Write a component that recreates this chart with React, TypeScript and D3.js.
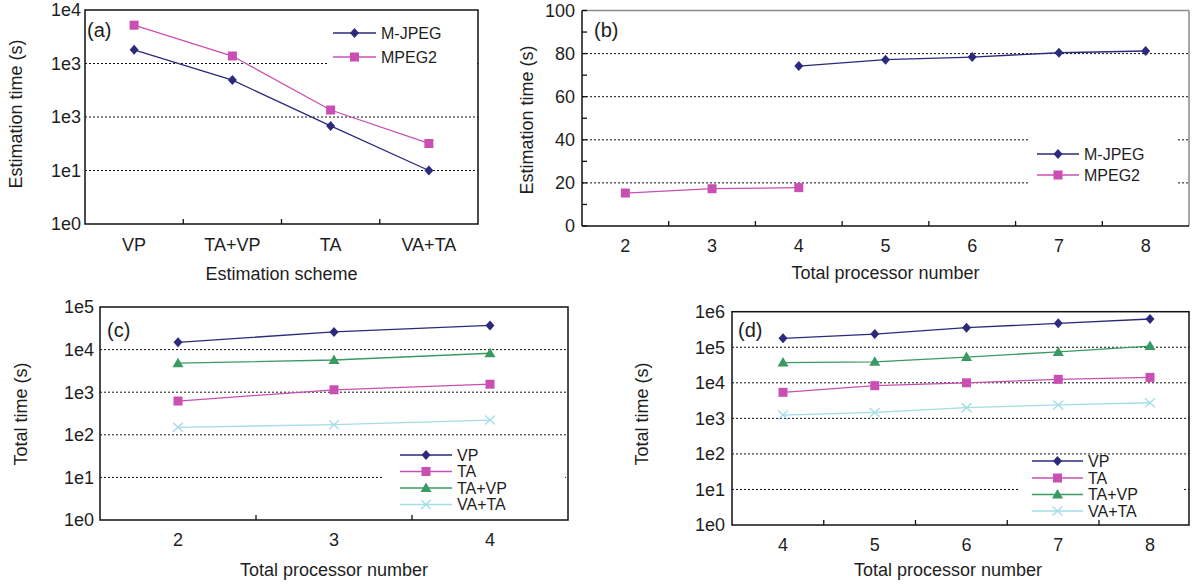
import React from "react";
import * as d3 from "d3";

// ---------- Data ----------
const schemes = ["VP", "TA+VP", "TA", "VA+TA"];
const aMJPEG = [1800, 490, 68, 10];
const aMPEG2 = [5200, 1380, 135, 32];
const aYTickValues = [1, 10, 100, 1000, 10000];
const aYTickLabels = ["1e0", "1e1", "1e3", "1e3", "1e4"];

const bProcs = [2, 3, 4, 5, 6, 7, 8];
const bMJPEGProcs = [4, 5, 6, 7, 8];
const bMJPEG = [74.2, 77.2, 78.4, 80.4, 81.2];
const bMPEG2Procs = [2, 3, 4];
const bMPEG2 = [15.3, 17.3, 17.8];
const bYTicks = [0, 20, 40, 60, 80, 100];
const bYMinor = [10, 30, 50, 70, 90];

const cProcs = [2, 3, 4];
const cVP = [14800, 26000, 37000];
const cTA = [620, 1140, 1540];
const cTAVP = [4800, 5700, 8200];
const cVATA = [150, 173, 222];
const cYTickValues = [1, 10, 100, 1000, 10000, 100000];
const cYTickLabels = ["1e0", "1e1", "1e2", "1e3", "1e4", "1e5"];

const dProcs = [4, 5, 6, 7, 8];
const dVP = [178000, 234000, 355000, 470000, 623000];
const dTA = [5400, 8300, 10000, 12500, 14200];
const dTAVP = [37000, 39000, 53000, 74000, 108000];
const dVATA = [1240, 1470, 2000, 2380, 2750];
const dYTickValues = [1, 10, 100, 1000, 10000, 100000, 1000000];
const dYTickLabels = ["1e0", "1e1", "1e2", "1e3", "1e4", "1e5", "1e6"];

// ---------- Styles ----------
const C_NAVY = "#2b2a7c";
const C_MAG = "#c94fb2";
const C_GREEN = "#3a9a63";
const C_CYAN = "#a3dde8";
const FONT = "'Liberation Sans', Arial, Helvetica, sans-serif";
const TXT = "#1e1e1e";

type MType = "diamond" | "square" | "triangle" | "x";

function Marker({ type, x, y, color }: { type: MType; x: number; y: number; color: string }) {
  if (type === "diamond")
    return <path d={`M${x},${y - 5}L${x + 4.5},${y}L${x},${y + 5}L${x - 4.5},${y}Z`} fill={color} />;
  if (type === "square") return <rect x={x - 4.5} y={y - 4.5} width={9} height={9} fill={color} />;
  if (type === "triangle")
    return <path d={`M${x},${y - 5.5}L${x + 5.5},${y + 4}L${x - 5.5},${y + 4}Z`} fill={color} />;
  return (
    <g stroke={color} strokeWidth={1.4}>
      <line x1={x - 5} y1={y - 4.5} x2={x + 5} y2={y + 4.5} />
      <line x1={x - 5} y1={y + 4.5} x2={x + 5} y2={y - 4.5} />
    </g>
  );
}

function Series({ xs, ys, type, color }: { xs: number[]; ys: number[]; type: MType; color: string }) {
  const pts: [number, number][] = xs.map((x, i) => [x, ys[i]]);
  const line = d3.line();
  return (
    <g>
      <path d={line(pts) || ""} fill="none" stroke={color} strokeWidth={1.3} />
      {pts.map((p, i) => (
        <Marker key={i} type={type} x={p[0]} y={p[1]} color={color} />
      ))}
    </g>
  );
}

function Legend({
  x1, x2, ys, items, fontSize,
}: {
  x1: number; x2: number; ys: number[];
  items: { label: string; type: MType; color: string }[]; fontSize: number;
}) {
  const mx = (x1 + x2) / 2;
  return (
    <g>
      {items.map((it, i) => (
        <g key={i}>
          <line x1={x1} x2={x2} y1={ys[i]} y2={ys[i]} stroke={it.color} strokeWidth={1.3} />
          <Marker type={it.type} x={mx} y={ys[i]} color={it.color} />
          <text x={x2 + 5} y={ys[i]} dy="0.36em" fontSize={fontSize} fill={TXT} fontFamily={FONT}>
            {it.label}
          </text>
        </g>
      ))}
    </g>
  );
}

function Grid({ ys, x1, x2 }: { ys: number[]; x1: number; x2: number }) {
  return (
    <g>
      {ys.map((y, i) => (
        <line key={i} x1={x1} x2={x2} y1={y} y2={y} stroke="#111" strokeWidth={1} strokeDasharray="2,2" />
      ))}
    </g>
  );
}

export default function App() {
  // ----- Panel A -----
  const A = { l: 85, r: 478, t: 10, b: 224 };
  const ax = d3.scaleBand<string>().domain(schemes).range([A.l, A.r]);
  const ay = d3.scaleLog().domain([1, 10000]).range([A.b, A.t]);
  const axc = (s: string) => (ax(s) as number) + ax.bandwidth() / 2;

  // ----- Panel B -----
  const B = { l: 582, r: 1189, t: 10.5, b: 226 };
  const bx = d3.scaleBand<number>().domain(bProcs).range([B.l, B.r]);
  const by = d3.scaleLinear().domain([0, 100]).range([B.b, B.t]);
  const bxc = (p: number) => (bx(p) as number) + bx.bandwidth() / 2;

  // ----- Panel C -----
  const Cc = { l: 100, r: 568, t: 307, b: 520 };
  const cx = d3.scaleBand<number>().domain(cProcs).range([Cc.l, Cc.r]);
  const cy = d3.scaleLog().domain([1, 100000]).range([Cc.b, Cc.t]);
  const cxc = (p: number) => (cx(p) as number) + cx.bandwidth() / 2;

  // ----- Panel D -----
  const D = { l: 732, r: 1189, t: 311.7, b: 525 };
  const dxMin = 3.444;
  const dxMax = 8.425;
  const dx = d3.scaleLinear().domain([dxMin, dxMax]).range([D.l, D.r]);
  const dy = d3.scaleLog().domain([1, 1000000]).range([D.b, D.t]);
  const dTicks = [1, 2, 3, 4].map((k) => dxMin + k);

  const tickFs = 18;

  return (
    <div style={{ position: "absolute", left: 0, top: 0 }}>
      <svg width={1192} height={585} style={{ display: "block", background: "#fff" }}>
        {/* ================= Panel A ================= */}
        <g>
          <Grid ys={[10, 100, 1000].map((v) => ay(v))} x1={A.l} x2={A.r} />
          <rect x={328} y={18} width={148} height={50} fill="#fff" />
          {schemes.slice(1).map((s, i) => (
            <line key={i} x1={ax(s)} x2={ax(s)} y1={A.b} y2={A.b - 5} stroke="#111" strokeWidth={1.3} />
          ))}
          <rect x={A.l} y={A.t} width={A.r - A.l} height={A.b - A.t} fill="none" stroke="#111" strokeWidth={1.5} />
          {aYTickValues.map((v, i) => (
            <text key={i} x={A.l - 4} y={ay(v)} dy="0.36em" textAnchor="end" fontSize={tickFs} fill={TXT} fontFamily={FONT}>
              {aYTickLabels[i]}
            </text>
          ))}
          {schemes.map((s, i) => (
            <text key={i} x={axc(s)} y={245} dy="0.36em" textAnchor="middle" fontSize={tickFs} fill={TXT} fontFamily={FONT}>
              {s}
            </text>
          ))}
          <Series xs={schemes.map(axc)} ys={aMPEG2.map((v) => ay(v))} type="square" color={C_MAG} />
          <Series xs={schemes.map(axc)} ys={aMJPEG.map((v) => ay(v))} type="diamond" color={C_NAVY} />
          <Legend
            x1={333}
            x2={376}
            ys={[33, 57]}
            fontSize={16}
            items={[
              { label: "M-JPEG", type: "diamond", color: C_NAVY },
              { label: "MPEG2", type: "square", color: C_MAG },
            ]}
          />
          <text x={87} y={30} dy="0.36em" fontSize={20} fill={TXT} fontFamily={FONT}>(a)</text>
          <text x={(A.l + A.r) / 2} y={274} dy="0.36em" textAnchor="middle" fontSize={18} fill={TXT} fontFamily={FONT}>
            Estimation scheme
          </text>
          <text transform={`translate(16,${114}) rotate(-90)`} dy="0.36em" textAnchor="middle" fontSize={18} fill={TXT} fontFamily={FONT}>
            Estimation time (s)
          </text>
        </g>

        {/* ================= Panel B ================= */}
        <g>
          <Grid ys={[20, 40, 60, 80].map((v) => by(v))} x1={B.l} x2={B.r} />
          <rect x={1030} y={134} width={148} height={58} fill="#fff" />
          <line x1={B.l} x2={B.r} y1={B.t} y2={B.t} stroke="#8a8a8a" strokeWidth={1.5} />
          <line x1={B.r} x2={B.r} y1={B.t} y2={B.b} stroke="#8a8a8a" strokeWidth={1.5} />
          {bYMinor.concat(bYTicks).map((v, i) => (
            <line key={i} x1={B.l} x2={B.l + 5} y1={by(v)} y2={by(v)} stroke="#111" strokeWidth={1.3} />
          ))}
          {bProcs.slice(1).map((p, i) => (
            <line key={i} x1={bx(p)} x2={bx(p)} y1={B.b} y2={B.b - 5} stroke="#111" strokeWidth={1.3} />
          ))}
          <line x1={B.l} x2={B.l} y1={B.t} y2={B.b} stroke="#111" strokeWidth={1.5} />
          <line x1={B.l} x2={B.r} y1={B.b} y2={B.b} stroke="#111" strokeWidth={1.5} />
          {bYTicks.map((v, i) => (
            <text key={i} x={B.l - 7} y={by(v)} dy="0.36em" textAnchor="end" fontSize={tickFs} fill={TXT} fontFamily={FONT}>
              {v}
            </text>
          ))}
          {bProcs.map((p, i) => (
            <text key={i} x={bxc(p)} y={246} dy="0.36em" textAnchor="middle" fontSize={tickFs} fill={TXT} fontFamily={FONT}>
              {p}
            </text>
          ))}
          <Series xs={bMJPEGProcs.map(bxc)} ys={bMJPEG.map((v) => by(v))} type="diamond" color={C_NAVY} />
          <Series xs={bMPEG2Procs.map(bxc)} ys={bMPEG2.map((v) => by(v))} type="square" color={C_MAG} />
          <Legend
            x1={1037}
            x2={1079}
            ys={[154, 175]}
            fontSize={16}
            items={[
              { label: "M-JPEG", type: "diamond", color: C_NAVY },
              { label: "MPEG2", type: "square", color: C_MAG },
            ]}
          />
          <text x={594} y={30} dy="0.36em" fontSize={20} fill={TXT} fontFamily={FONT}>(b)</text>
          <text x={(B.l + B.r) / 2} y={273} dy="0.36em" textAnchor="middle" fontSize={18} fill={TXT} fontFamily={FONT}>
            Total processor number
          </text>
          <text transform={`translate(527,${120}) rotate(-90)`} dy="0.36em" textAnchor="middle" fontSize={18} fill={TXT} fontFamily={FONT}>
            Estimation time (s)
          </text>
        </g>

        {/* ================= Panel C ================= */}
        <g>
          <Grid ys={[10, 100, 1000, 10000].map((v) => cy(v))} x1={Cc.l} x2={Cc.r} />
          <rect x={383} y={444} width={182} height={74} fill="#fff" />
          {cProcs.slice(1).map((p, i) => (
            <line key={i} x1={cx(p)} x2={cx(p)} y1={Cc.b} y2={Cc.b - 5} stroke="#111" strokeWidth={1.3} />
          ))}
          <rect x={Cc.l} y={Cc.t} width={Cc.r - Cc.l} height={Cc.b - Cc.t} fill="none" stroke="#111" strokeWidth={1.5} />
          {cYTickValues.map((v, i) => (
            <text key={i} x={Cc.l - 6} y={cy(v)} dy="0.36em" textAnchor="end" fontSize={tickFs} fill={TXT} fontFamily={FONT}>
              {cYTickLabels[i]}
            </text>
          ))}
          {cProcs.map((p, i) => (
            <text key={i} x={cxc(p)} y={540} dy="0.36em" textAnchor="middle" fontSize={tickFs} fill={TXT} fontFamily={FONT}>
              {p}
            </text>
          ))}
          <Series xs={cProcs.map(cxc)} ys={cVATA.map((v) => cy(v))} type="x" color={C_CYAN} />
          <Series xs={cProcs.map(cxc)} ys={cTA.map((v) => cy(v))} type="square" color={C_MAG} />
          <Series xs={cProcs.map(cxc)} ys={cTAVP.map((v) => cy(v))} type="triangle" color={C_GREEN} />
          <Series xs={cProcs.map(cxc)} ys={cVP.map((v) => cy(v))} type="diamond" color={C_NAVY} />
          <Legend
            x1={400}
            x2={452}
            ys={[455, 471.5, 488, 504.5]}
            fontSize={16}
            items={[
              { label: "VP", type: "diamond", color: C_NAVY },
              { label: "TA", type: "square", color: C_MAG },
              { label: "TA+VP", type: "triangle", color: C_GREEN },
              { label: "VA+TA", type: "x", color: C_CYAN },
            ]}
          />
          <text x={107} y={330} dy="0.36em" fontSize={20} fill={TXT} fontFamily={FONT}>(c)</text>
          <text x={(Cc.l + Cc.r) / 2} y={570} dy="0.36em" textAnchor="middle" fontSize={18} fill={TXT} fontFamily={FONT}>
            Total processor number
          </text>
          <text transform={`translate(21,${414}) rotate(-90)`} dy="0.36em" textAnchor="middle" fontSize={18} fill={TXT} fontFamily={FONT}>
            Total time (s)
          </text>
        </g>

        {/* ================= Panel D ================= */}
        <g>
          <Grid ys={[10, 100, 1000, 10000, 100000].map((v) => dy(v))} x1={D.l} x2={D.r} />
          <rect x={1018} y={455} width={166} height={68} fill="#fff" />
          {dTicks.map((t, i) => (
            <line key={i} x1={dx(t)} x2={dx(t)} y1={D.b} y2={D.b - 5} stroke="#111" strokeWidth={1.3} />
          ))}
          <rect x={D.l} y={D.t} width={D.r - D.l} height={D.b - D.t} fill="none" stroke="#111" strokeWidth={1.5} />
          {dYTickValues.map((v, i) => (
            <text key={i} x={D.l - 7} y={dy(v)} dy="0.36em" textAnchor="end" fontSize={tickFs} fill={TXT} fontFamily={FONT}>
              {dYTickLabels[i]}
            </text>
          ))}
          {dProcs.map((p, i) => (
            <text key={i} x={dx(p)} y={545} dy="0.36em" textAnchor="middle" fontSize={tickFs} fill={TXT} fontFamily={FONT}>
              {p}
            </text>
          ))}
          <Series xs={dProcs.map((p) => dx(p))} ys={dVATA.map((v) => dy(v))} type="x" color={C_CYAN} />
          <Series xs={dProcs.map((p) => dx(p))} ys={dTA.map((v) => dy(v))} type="square" color={C_MAG} />
          <Series xs={dProcs.map((p) => dx(p))} ys={dTAVP.map((v) => dy(v))} type="triangle" color={C_GREEN} />
          <Series xs={dProcs.map((p) => dx(p))} ys={dVP.map((v) => dy(v))} type="diamond" color={C_NAVY} />
          <Legend
            x1={1032}
            x2={1083}
            ys={[461, 478, 494.5, 511]}
            fontSize={16}
            items={[
              { label: "VP", type: "diamond", color: C_NAVY },
              { label: "TA", type: "square", color: C_MAG },
              { label: "TA+VP", type: "triangle", color: C_GREEN },
              { label: "VA+TA", type: "x", color: C_CYAN },
            ]}
          />
          <text x={738} y={330} dy="0.36em" fontSize={20} fill={TXT} fontFamily={FONT}>(d)</text>
          <text x={948} y={570} dy="0.36em" textAnchor="middle" fontSize={18} fill={TXT} fontFamily={FONT}>
            Total processor number
          </text>
          <text transform={`translate(642,${414}) rotate(-90)`} dy="0.36em" textAnchor="middle" fontSize={18} fill={TXT} fontFamily={FONT}>
            Total time (s)
          </text>
        </g>
      </svg>
    </div>
  );
}
